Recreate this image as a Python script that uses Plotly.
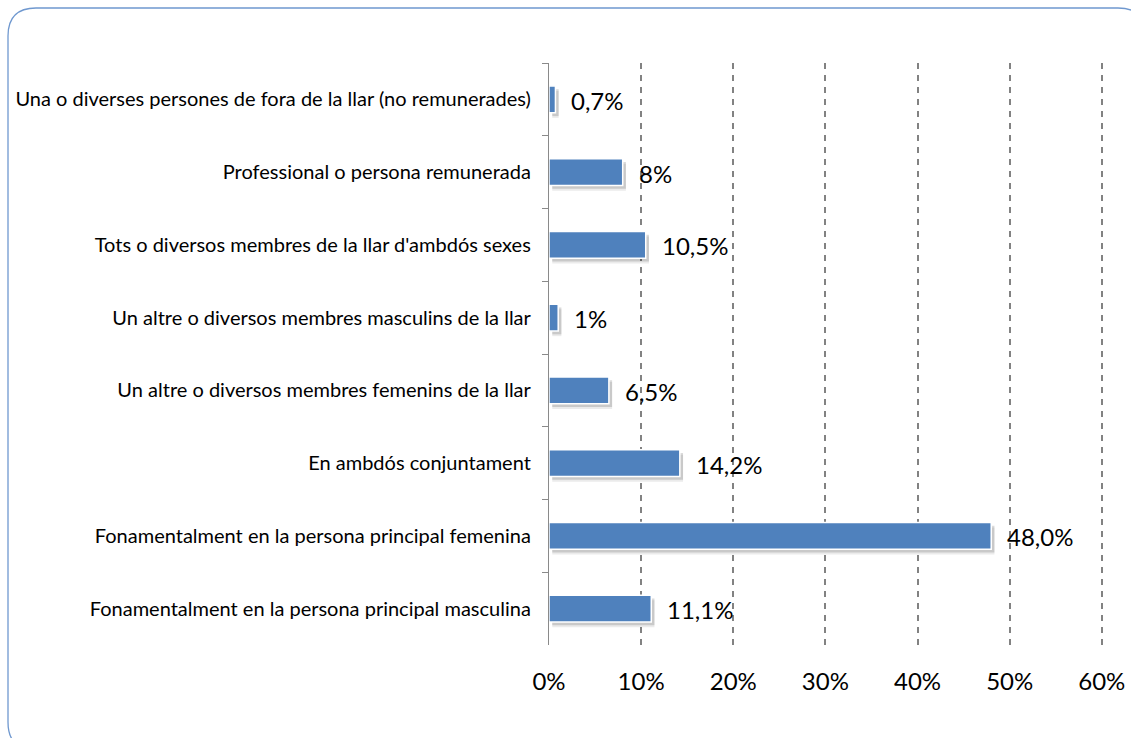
import plotly.graph_objects as go

# Categories listed top to bottom as they appear on the chart
categories = [
    "Una o diverses persones de fora de la llar (no remunerades)",
    "Professional o persona remunerada",
    "Tots o diversos membres de la llar d'ambdós sexes",
    "Un altre o diversos membres masculins de la llar",
    "Un altre o diversos membres femenins de la llar",
    "En ambdós conjuntament",
    "Fonamentalment en la persona principal femenina",
    "Fonamentalment en la persona principal masculina",
]
values = [0.7, 8.0, 10.5, 1.0, 6.5, 14.2, 48.0, 11.1]
value_labels = ["0,7%", "8%", "10,5%", "1%", "6,5%", "14,2%", "48,0%", "11,1%"]
x_ticks = [0, 10, 20, 30, 40, 50, 60]
x_tick_labels = ["0%", "10%", "20%", "30%", "40%", "50%", "60%"]

W, H = 1131, 738
# x range runs a little past 60% so its gridline is drawn inside the plot area
X_MAX = 61
ML, MT, MB = 549, 63, 93
PW = round(553 * X_MAX / 60)
MR = W - ML - PW
PH = H - MT - MB
FONT = "Lato, Open Sans, sans-serif"
BAR_W = 0.37

fig = go.Figure()
# soft drop shadow under each bar
for shift, alpha in [(0.07, 0.08), (0.045, 0.14)]:
    fig.add_trace(go.Bar(
        x=values, y=categories, orientation="h", base=0.35,
        width=BAR_W, offset=-BAR_W / 2 + shift,
        marker=dict(color=f"rgba(0,0,0,{alpha})", line=dict(width=0)),
        hoverinfo="skip",
    ))
fig.add_trace(go.Bar(
    x=values, y=categories, orientation="h",
    width=BAR_W, offset=-BAR_W / 2,
    marker=dict(color="#4F81BD", line=dict(color="white", width=1.5)),
    hoverinfo="x+y",
))

for v, c, t in zip(values, categories, value_labels):
    fig.add_annotation(x=v, y=c, text=t, showarrow=False, xanchor="left",
                       xshift=14, yshift=-1,
                       font=dict(size=24, color="#000000", family=FONT))

# Rounded frame around the whole chart
def px(xp):
    return (xp - ML) / PW

def py(yp):
    return (H - MB - yp) / PH

L, T, R, B, r = 8, 8, 1146, 750, 28
pts = [
    ("M", [(L + r, T)]), ("L", [(R - r, T)]), ("Q", [(R, T), (R, T + r)]),
    ("L", [(R, B - r)]), ("Q", [(R, B), (R - r, B)]), ("L", [(L + r, B)]),
    ("Q", [(L, B), (L, B - r)]), ("L", [(L, T + r)]), ("Q", [(L, T), (L + r, T)]),
]
path = " ".join(cmd + " " + " ".join(f"{px(a):.5f},{py(b):.5f}" for a, b in p) for cmd, p in pts) + " Z"
fig.add_shape(type="path", path=path, xref="paper", yref="paper",
              line=dict(color="#6F98CF", width=1.3), layer="below")

fig.update_layout(
    width=W, height=H,
    margin=dict(l=ML, r=MR, t=MT, b=MB, autoexpand=False),
    paper_bgcolor="white", plot_bgcolor="white",
    barmode="overlay", showlegend=False,
    font=dict(family=FONT, color="#000000"),
)
fig.update_xaxes(
    range=[0, X_MAX], tickvals=x_ticks, ticktext=x_tick_labels,
    showgrid=True, gridcolor="#828282", griddash="6px,6px", gridwidth=1.8,
    zeroline=False, showline=False, ticks="", automargin=False,
    tickfont=dict(size=24, family=FONT, color="#000000"),
    ticklabelstandoff=20, fixedrange=True,
)
fig.update_yaxes(
    categoryorder="array", categoryarray=categories, autorange="reversed",
    tickson="boundaries", ticks="outside", ticklen=6, tickcolor="#8A8A8A",
    tickwidth=1.3, showline=True, linecolor="#8A8A8A", linewidth=1.3,
    showgrid=False, automargin=False,
    tickfont=dict(size=20, family=FONT, color="#000000"),
    ticklabelstandoff=13, fixedrange=True,
)

fig.write_html("out.html")
